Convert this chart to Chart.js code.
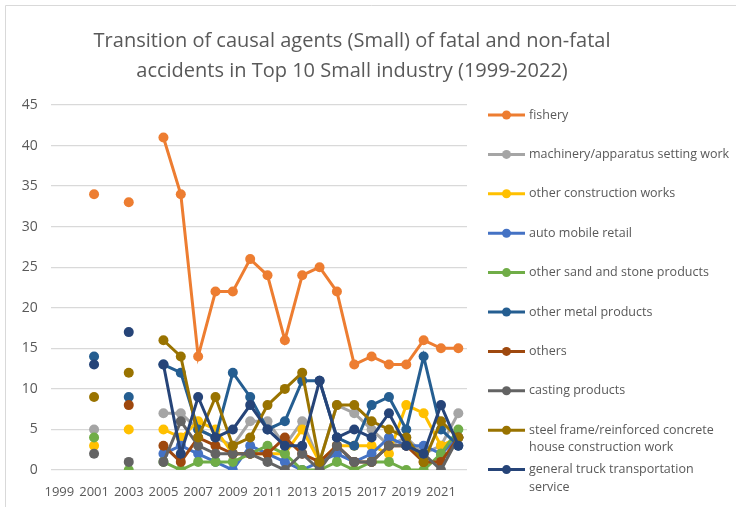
<!DOCTYPE html>
<html><head><meta charset="utf-8">
<script src="https://cdn.jsdelivr.net/npm/chart.js@4/dist/chart.umd.min.js"></script>
<style>html,body{margin:0;padding:0;background:#fff}#wrap{width:736px;height:507px;position:relative}</style>
</head><body><div id="wrap"><canvas id="c" width="736" height="507"></canvas></div>
<script>
const years = ["1999","2000","2001","2002","2003","2004","2005","2006","2007","2008","2009","2010","2011","2012","2013","2014","2015","2016","2017","2018","2019","2020","2021","2022"];
const seriesNames = ["fishery","machinery/apparatus setting work","other construction works","auto mobile retail","other sand and stone products","other metal products","others","casting products","steel frame/reinforced concrete house construction work","general truck transportation service"];
const fishery   = [null,null,34,null,33,null,41,34,14,22,22,26,24,16,24,25,22,13,14,13,13,16,15,15];
const machinery = [null,null,5,null,null,null,7,7,5,4,3,6,6,3,6,1,8,7,5,3,4,2,3,7];
const otherConstruction = [null,null,3,null,5,null,5,4,6,5,2,2,2,2,5,1,3,3,3,2,8,7,3,4];
const autoRetail = [null,null,null,null,null,null,2,3,2,1,0,3,2,1,0,1,2,1,2,4,3,3,2,4];
const sandStone = [null,null,4,null,0,null,1,0,1,1,1,2,3,2,0,0,1,0,1,1,0,0,2,5];
const metalProducts = [null,null,14,null,9,null,13,12,5,4,12,9,5,6,11,11,4,3,8,9,5,14,5,3];
const others = [null,null,null,null,8,null,3,1,4,3,2,2,2,4,2,1,3,1,1,3,3,1,1,4];
const casting = [null,null,2,null,1,null,1,6,3,2,2,2,1,0,2,0,3,1,1,3,3,2,0,4];
const steelFrame = [null,null,9,null,12,null,16,14,4,9,3,4,8,10,12,1,8,8,6,5,4,1,6,4];
const truck = [null,null,13,null,17,null,13,2,9,4,5,8,5,3,3,11,4,5,4,7,3,2,8,3];
const yTicks = [0,5,10,15,20,25,30,35,40,45];

const allValues = [fishery,machinery,otherConstruction,autoRetail,sandStone,metalProducts,others,casting,steelFrame,truck];
const colors = ["#ED7D31","#A5A5A5","#FFC000","#4472C4","#70AD47","#255E91","#9E480E","#636363","#997300","#264478"];
const legendLines = [["fishery"],["machinery/apparatus setting work"],["other construction works"],["auto mobile retail"],["other sand and stone products"],["other metal products"],["others"],["casting products"],["steel frame/reinforced concrete","house construction work"],["general truck transportation","service"]];

const datasets = allValues.map((d,i)=>({
  label: seriesNames[i], data: d, borderColor: colors[i], backgroundColor: colors[i],
  borderWidth: 3, pointRadius: 5, pointHoverRadius: 5, pointBorderWidth: 0,
  spanGaps: false, tension: 0
}));
datasets.forEach((d,i)=>{ d.order = allValues.length - i; });

const TXT = "#595959";
const FONT = "'Open Sans', 'Liberation Sans', sans-serif";

const deco = {
  id:'deco',
  afterDraw(chart){
    const ctx = chart.ctx;
    ctx.save();
    ctx.strokeStyle = "#D9D9D9"; ctx.lineWidth = 1;
    ctx.beginPath(); ctx.moveTo(5.5,520); ctx.lineTo(5.5,5.5); ctx.lineTo(740,5.5); ctx.stroke();
    ctx.fillStyle = TXT; ctx.textAlign = 'center'; ctx.textBaseline = 'middle';
    ctx.font = "20px " + FONT;
    ctx.fillText("Transition of causal agents (Small) of fatal and non-fatal", 352, 41);
    ctx.fillText("accidents in Top 10 Small industry (1999-2022)", 352, 71);
    ctx.font = "12.5px " + FONT; ctx.textAlign = 'left';
    const y0 = 115, dy = 39.4;
    legendLines.forEach((lines,i)=>{
      const y = y0 + dy*i;
      ctx.strokeStyle = colors[i]; ctx.lineWidth = 3;
      ctx.beginPath(); ctx.moveTo(488,y); ctx.lineTo(525,y); ctx.stroke();
      ctx.fillStyle = colors[i];
      ctx.beginPath(); ctx.arc(506.5,y,4.5,0,Math.PI*2); ctx.fill();
      ctx.fillStyle = TXT;
      lines.forEach((t,k)=> ctx.fillText(t, 529, y + k*17.5));
    });
    ctx.restore();
  }
};

new Chart(document.getElementById('c'), {
  type: 'line',
  data: { labels: years, datasets },
  plugins: [deco],
  options: {
    responsive: false, animation: false, devicePixelRatio: 1,
    layout: { padding: { top: 105, bottom: 0, left: 12, right: 269 } },
    plugins: { legend: { display: false }, title: { display: false }, tooltip: { enabled: false } },
    scales: {
      x: {
        offset: true,
        grid: { display: false, drawTicks: false, offset: true }, border: { display: false },
        afterFit(s){ s.height = 37; },
        ticks: { autoSkip: false, maxRotation: 0, minRotation: 0, padding: 14, color: TXT,
          font: { family: FONT, size: 13 },
          callback(v,i){ return i % 2 === 0 ? years[i] : ''; } }
      },
      y: {
        min: 0, max: 45,
        afterBuildTicks(s){ s.ticks = yTicks.map(v=>({value:v})); },
        afterFit(s){ s.width = 38.7; },
        grid: { color: "#D9D9D9", lineWidth: 1.3, drawTicks: false }, border: { display: false },
        ticks: { padding: 13, color: TXT, font: { family: FONT, size: 14 } }
      }
    }
  }
});
</script></body></html>
